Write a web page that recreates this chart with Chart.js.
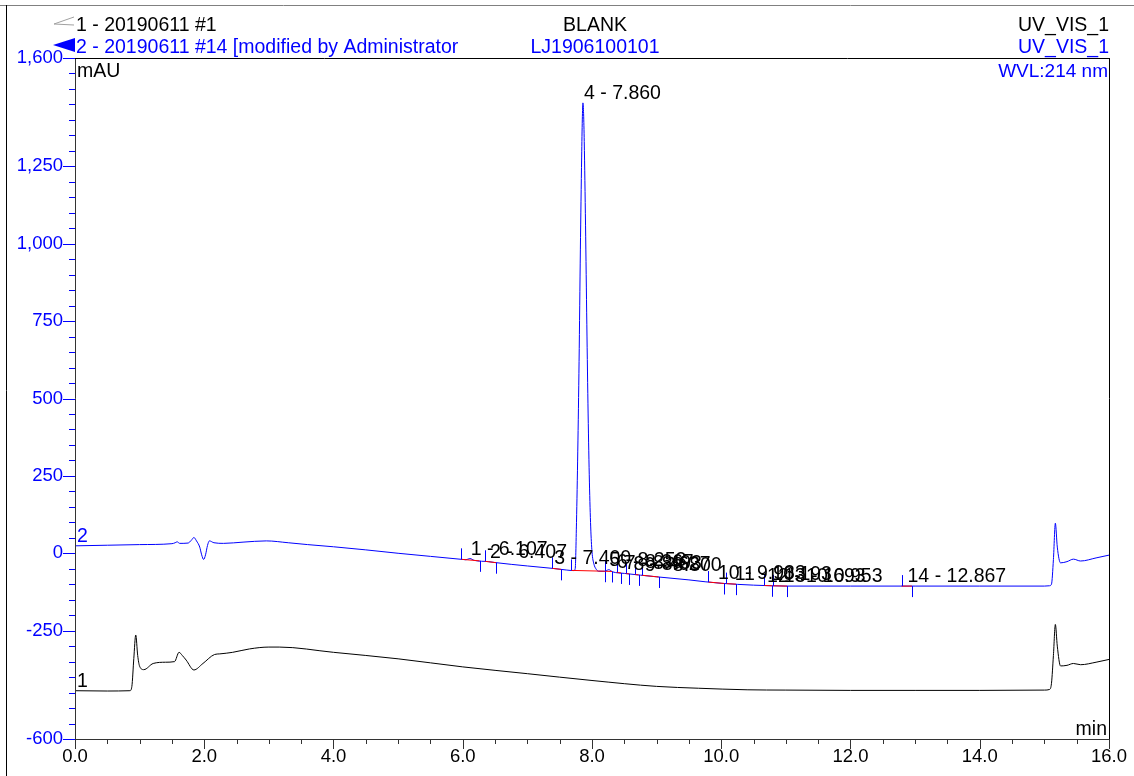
<!DOCTYPE html>
<html>
<head>
<meta charset="utf-8">
<title>Chromatogram</title>
<script src="https://cdn.jsdelivr.net/npm/chart.js@4.4.1/dist/chart.umd.min.js"></script>
<style>
  html, body { margin: 0; padding: 0; background: #fff; }
  #wrap { position: relative; width: 1134px; height: 776px; }
</style>
</head>
<body>
<div id="wrap"><canvas id="chrom"></canvas></div>
<script>
// trace 1 - 20190611 #1 (black), time in min, signal in mAU
const trace1Times = [0.00, 0.50, 0.85, 0.88, 0.91, 0.94, 0.97, 1.00, 1.065, 1.21, 1.40, 1.54, 1.61, 1.66, 1.72, 1.84, 1.98, 2.16, 2.24, 2.44, 2.70, 3.00, 3.16, 4.00, 5.00, 6.00, 7.00, 8.00, 9.00, 9.65, 10.40, 11.00, 12.00, 13.00, 14.00, 15.00, 15.08, 15.11, 15.14, 15.17, 15.20, 15.25, 15.35, 15.45, 15.56, 15.80, 16.00];
const trace1Values = [-444, -445, -444, -430, -340, -264, -330, -365, -376, -356, -352, -350, -320, -330, -345, -377, -356, -327, -325, -320, -309, -303, -303, -320, -341, -367, -389, -411, -430, -436, -441, -442, -443, -443, -443, -442, -440, -420, -330, -230, -300, -364, -362, -356, -360, -352, -343];

// trace 2 - 20190611 #14 (blue)
const trace2Times = [0.00, 0.50, 1.00, 1.50, 1.55, 1.58, 1.62, 1.75, 1.80, 1.84, 1.88, 1.93, 1.96, 1.99, 2.02, 2.05, 2.08, 2.15, 2.30, 2.60, 2.96, 3.30, 3.60, 4.00, 4.50, 5.00, 5.50, 6.00, 6.05, 6.11, 6.18, 6.40, 6.50, 7.00, 7.40, 7.60, 7.72, 7.74, 7.76, 7.78, 7.80, 7.82, 7.84, 7.85, 7.86, 7.87, 7.88, 7.90, 7.92, 7.94, 7.96, 7.98, 8.00, 8.03, 8.06, 8.10, 8.20, 8.26, 8.32, 8.50, 9.00, 9.50, 9.75, 10.00, 10.50, 10.78, 11.00, 12.00, 13.00, 14.00, 15.00, 15.08, 15.11, 15.14, 15.17, 15.20, 15.25, 15.35, 15.45, 15.56, 15.80, 16.00];
const trace2Values = [24, 26, 28, 31, 34, 37, 32, 33, 42, 51, 40, 20, -5, -20, -5, 25, 40, 34, 32, 36, 40, 34, 28, 21, 11, 0, -10, -20, -21, -17, -23, -27, -30, -41, -49, -54, -56, -50, 100, 330, 620, 980, 1280, 1400, 1455, 1420, 1330, 1060, 740, 450, 230, 85, 5, -35, -50, -58, -58, -53, -60, -65, -76, -86, -92, -97, -103, -105, -106, -106, -106, -106, -106, -105, -100, -20, 97, 20, -31, -27, -19, -25, -15, -6];

// integrated peaks on trace 2
const peakNumbers = [1, 2, 3, 4, 5, 6, 7, 8, 9, 10, 11, 12, 13, 14];
const peakTimes = [6.107, 6.407, 7.400, 7.860, 8.253, 8.367, 8.493, 8.627, 8.800, 9.933, 10.193, 10.693, 10.953, 12.867];
const peakStarts = [5.98, 6.34, 7.38, 7.68, 8.20, 8.38, 8.52, 8.66, 8.77, 9.80, 10.08, 10.66, 10.80, 12.79];
const peakEnds = [6.26, 6.52, 7.52, 8.20, 8.31, 8.45, 8.58, 8.72, 9.03, 10.05, 10.23, 10.79, 11.02, 12.95];

// axes
const xTickValues = [0, 2, 4, 6, 8, 10, 12, 14, 16];
const yTickValues = [-600, -250, 0, 250, 500, 750, 1000, 1250, 1600];
const xMinorStep = 0.5;
const yMinorStep = 50;

const BLUE = '#0000ff';
const FAMILY = '"Liberation Sans", Arial, sans-serif';
const TEXT_FONT = '19.5px ' + FAMILY;

function toPoints(times, values) {
  return times.map((t, i) => ({ x: t, y: values[i] }));
}

// linear lookup of the trace at a given time
function valueAt(times, values, t) {
  for (let i = 1; i < times.length; i++) {
    if (t <= times[i]) {
      const f = (t - times[i - 1]) / (times[i] - times[i - 1]);
      return values[i - 1] + f * (values[i] - values[i - 1]);
    }
  }
  return values[values.length - 1];
}

const crisp = v => Math.round(v) + 0.5;

function line(ctx, x1, y1, x2, y2) {
  ctx.beginPath();
  ctx.moveTo(x1, y1);
  ctx.lineTo(x2, y2);
  ctx.stroke();
}

const decorations = {
  id: 'decorations',
  afterDatasetsDraw(chart) {
    const { ctx, scales: { x, y } } = chart;
    ctx.save();
    ctx.lineWidth = 1;
    // integration baselines (red) and delimiters (blue)
    peakStarts.forEach((s, i) => {
      const e = peakEnds[i];
      const xs = x.getPixelForValue(s), ys = y.getPixelForValue(valueAt(trace2Times, trace2Values, s));
      const xe = x.getPixelForValue(e), ye = y.getPixelForValue(valueAt(trace2Times, trace2Values, e));
      ctx.strokeStyle = '#ff0000';
      line(ctx, xs, ys, xe, ye);
      ctx.strokeStyle = BLUE;
      line(ctx, crisp(xs), ys, crisp(xs), ys - 11);
      line(ctx, crisp(xe), ye, crisp(xe), ye + 11);
    });
    // peak labels
    ctx.fillStyle = '#000';
    ctx.font = TEXT_FONT;
    ctx.textAlign = 'left';
    ctx.textBaseline = 'alphabetic';
    peakTimes.forEach((t, i) => {
      const px = x.getPixelForValue(t);
      const py = y.getPixelForValue(valueAt(trace2Times, trace2Values, t));
      ctx.fillText(peakNumbers[i] + ' - ' + t.toFixed(3), px + 1, py - 4);
    });
    // trace numbers at start
    ctx.fillStyle = BLUE;
    ctx.fillText('2', x.getPixelForValue(0) + 2, y.getPixelForValue(trace2Values[0]) - 4);
    ctx.fillStyle = '#000';
    ctx.fillText('1', x.getPixelForValue(0) + 2, y.getPixelForValue(trace1Values[0]) - 4);
    ctx.restore();
  },
  afterDraw(chart) {
    const { ctx, chartArea: a, scales: { x, y } } = chart;
    ctx.save();
    ctx.lineWidth = 1;

    // outer frame
    ctx.strokeStyle = '#808080';
    line(ctx, 0, 5.5, chart.width, 5.5);
    ctx.strokeStyle = '#000';
    line(ctx, 6.5, 5, 6.5, chart.height);

    // plot frame
    ctx.strokeStyle = '#333';
    line(ctx, crisp(a.left), a.top, crisp(a.left), crisp(a.bottom));
    line(ctx, a.left, crisp(a.bottom), a.right, crisp(a.bottom));
    ctx.strokeStyle = '#000';
    line(ctx, crisp(a.right), a.top, crisp(a.right), a.bottom);
    line(ctx, a.left - 12, crisp(a.top), a.right, crisp(a.top));

    // y ticks (blue)
    ctx.strokeStyle = BLUE;
    for (let v = y.min; v <= y.max + 1e-6; v += yMinorStep) {
      const py = crisp(y.getPixelForValue(v));
      const len = yTickValues.includes(v) ? 12 : 6;
      line(ctx, a.left - len, py, a.left, py);
    }
    // x ticks
    ctx.strokeStyle = '#333';
    for (let t = x.min; t <= x.max + 1e-6; t += xMinorStep) {
      const px = crisp(x.getPixelForValue(t));
      const len = xTickValues.includes(t) ? 10 : 5;
      line(ctx, px, a.bottom, px, a.bottom + len);
    }

    // header
    ctx.font = TEXT_FONT;
    ctx.textBaseline = 'alphabetic';
    ctx.textAlign = 'left';
    ctx.fillStyle = '#000';
    ctx.fillText('1 - 20190611 #1', 76, 31);
    ctx.fillStyle = BLUE;
    ctx.fillText('2 - 20190611 #14 [modified by Administrator', 76, 53);
    ctx.textAlign = 'center';
    ctx.fillStyle = '#000';
    ctx.fillText('BLANK', 595, 31);
    ctx.fillStyle = BLUE;
    ctx.fillText('LJ1906100101', 595, 53);
    ctx.textAlign = 'right';
    ctx.fillStyle = '#000';
    ctx.fillText('UV_VIS_1', a.right, 31);
    ctx.fillStyle = BLUE;
    ctx.fillText('UV_VIS_1', a.right, 53);
    ctx.font = '19px ' + FAMILY;
    ctx.fillText('WVL:214 nm', a.right - 1, 77);

    // legend markers
    ctx.strokeStyle = '#a0a0a0';
    line(ctx, 54, 24, 74, 17);
    line(ctx, 54, 24, 74, 25);
    ctx.fillStyle = BLUE;
    ctx.beginPath();
    ctx.moveTo(53, 45);
    ctx.lineTo(75, 38);
    ctx.lineTo(75, 52);
    ctx.closePath();
    ctx.fill();

    // axis units
    ctx.font = TEXT_FONT;
    ctx.fillStyle = '#000';
    ctx.textAlign = 'left';
    ctx.fillText('mAU', a.left + 2, 77);
    ctx.textAlign = 'right';
    ctx.fillText('min', a.right - 2, 735);
    ctx.restore();
  }
};

new Chart(document.getElementById('chrom'), {
  type: 'line',
  data: {
    datasets: [
      {
        label: '1 - 20190611 #1',
        data: toPoints(trace1Times, trace1Values),
        borderColor: '#000',
        borderWidth: 1,
        pointRadius: 0,
        cubicInterpolationMode: 'monotone'
      },
      {
        label: '2 - 20190611 #14',
        data: toPoints(trace2Times, trace2Values),
        borderColor: BLUE,
        borderWidth: 1,
        pointRadius: 0,
        cubicInterpolationMode: 'monotone'
      }
    ]
  },
  options: {
    responsive: true,
    maintainAspectRatio: false,
    devicePixelRatio: 1,
    animation: false,
    events: [],
    layout: { padding: { top: 58, right: 22, left: 0, bottom: 0 } },
    plugins: {
      legend: { display: false },
      tooltip: { enabled: false }
    },
    scales: {
      x: {
        type: 'linear',
        min: 0,
        max: 16,
        afterFit: s => { s.height = 37; },
        afterBuildTicks: s => { s.ticks = xTickValues.map(v => ({ value: v })); },
        grid: { display: false, drawTicks: false },
        border: { display: false },
        ticks: {
          autoSkip: false,
          maxRotation: 0,
          padding: 7,
          color: '#000',
          font: { family: FAMILY, size: 18.5 },
          callback: v => Number(v).toFixed(1)
        }
      },
      y: {
        type: 'linear',
        min: -600,
        max: 1600,
        afterFit: s => { s.width = 75; },
        afterBuildTicks: s => { s.ticks = yTickValues.map(v => ({ value: v })); },
        grid: { display: false, drawTicks: false },
        border: { display: false },
        ticks: {
          autoSkip: false,
          padding: 12,
          color: BLUE,
          font: { family: FAMILY, size: 18.5 },
          callback: v => Number(v).toLocaleString('en-US')
        }
      }
    }
  },
  plugins: [decorations]
});
</script>
</body>
</html>
